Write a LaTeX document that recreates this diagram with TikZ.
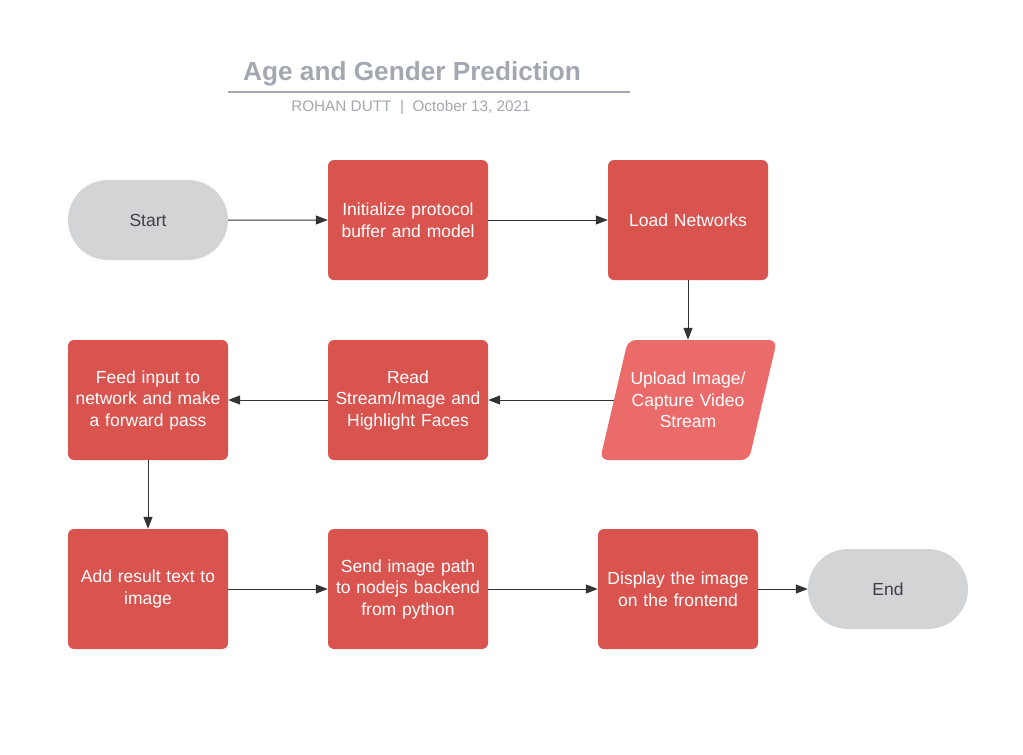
\documentclass[tikz,border=0pt]{standalone}
\usepackage{fontspec}
\setmainfont{Liberation Sans}
\usetikzlibrary{arrows.meta,shapes.misc}
\definecolor{boxred}{HTML}{D9534F}
\definecolor{lightred}{HTML}{EB6B6A}
\definecolor{termgray}{HTML}{D3D4D6}
\definecolor{termtext}{HTML}{3B4049}
\definecolor{titlegray}{HTML}{A3A7AF}
\definecolor{arrowc}{HTML}{333333}
\tikzset{
  procbox/.style={fill=boxred, draw=none, rounded corners=6pt, minimum width=160pt, minimum height=120pt,
    text=white, align=center, text width=156pt, font=\fontsize{17.5}{21.5}\selectfont, inner sep=0pt},
  termbox/.style={fill=termgray, draw=none, rounded rectangle, minimum width=160pt, minimum height=80pt,
    text=termtext, font=\fontsize{17.5}{21.5}\selectfont, inner sep=0pt},
  iotext/.style={draw=none, minimum width=148pt, minimum height=120pt, text=white, align=center,
    text width=146pt, font=\fontsize{17.5}{21.5}\selectfont, inner sep=0pt},
  conn/.style={draw=arrowc, line width=1pt, -{Triangle[length=12pt,width=9pt]}},
}
\begin{document}
\begin{tikzpicture}[x=1pt,y=-1pt]
\useasboundingbox (0,0) rectangle (1023,755);
% title
\node[anchor=base west, text=titlegray, font=\fontsize{26.2}{31}\selectfont\bfseries, inner sep=0pt] (title) at (243,80) {Age and Gender Prediction};
\coordinate (tl) at (228,92);
\coordinate (tr) at (630,92);
\draw[titlegray, line width=1.8pt] (tl) -- (tr);
\node[anchor=base, text=titlegray, font=\fontsize{15.3}{18}\selectfont, inner sep=0pt] (sub) at (411,111) {ROHAN DUTT~~|~~October 13, 2021};
% nodes
\node[termbox] (start) at (148,220) {Start};
\node[procbox] (init) at (408,220) {Initialize protocol\\buffer and model};
\node[procbox] (load) at (688,220) {Load Networks};
\fill[lightred, rounded corners=8pt] (628,340) -- (777,340) -- (749,460) -- (600,460) -- cycle;
\node[iotext] (upload) at (688,400) {Upload Image/\\Capture Video\\Stream};
\node[procbox] (read) at (408,400) {Read\\Stream/Image and\\Highlight Faces};
\node[procbox] (feed) at (148,400) {Feed input to\\network and make\\a forward pass};
\node[procbox] (add) at (148,589) {Add result text to\\image};
\node[procbox] (send) at (408,589) {Send image path\\to nodejs backend\\from python};
\node[procbox] (disp) at (678,589) {Display the image\\on the frontend};
\node[termbox] (end) at (888,589) {End};
% connectors
\draw[conn] (start) -- (init);
\draw[conn] (init) -- (load);
\draw[conn] (load) -- (upload);
\draw[conn] (upload) -- (read);
\draw[conn] (read) -- (feed);
\draw[conn] (feed) -- (add);
\draw[conn] (add) -- (send);
\draw[conn] (send) -- (disp);
\draw[conn] (disp) -- (end);
\end{tikzpicture}
\end{document}
